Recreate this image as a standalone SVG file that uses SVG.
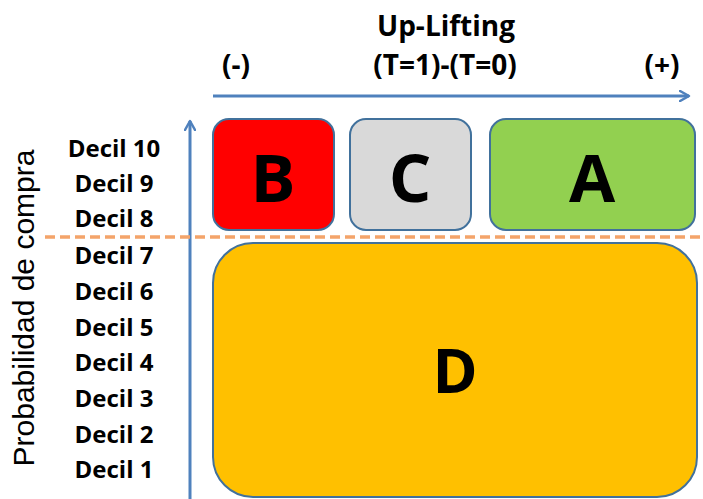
<svg xmlns="http://www.w3.org/2000/svg" width="703" height="499" viewBox="0 0 703 499">
<style>
.lbl{font-family:"Open Sans","DejaVu Sans",sans-serif;font-weight:bold;fill:#000}
.dec{font-size:24px;text-anchor:middle}
.big{font-size:67px;text-anchor:middle}
.box{stroke:#41719c;stroke-width:2}
.axis{stroke:#4f81bd;stroke-width:3;fill:none}
</style>
<defs>
<marker id="arr" viewBox="0 0 12 12" refX="10" refY="6" markerWidth="12" markerHeight="12" markerUnits="userSpaceOnUse" orient="auto">
<path d="M1,1 L10,6 L1,11" fill="none" stroke="#4f81bd" stroke-width="2.5" stroke-linecap="round" stroke-linejoin="round"/>
</marker>
</defs>
<rect width="703" height="499" fill="#fff"/>
<g id="titles">
<text class="lbl" x="446" y="36" font-size="28" text-anchor="middle">Up-Lifting</text>
<text class="lbl" x="445" y="75" font-size="28" text-anchor="middle">(T=1)-(T=0)</text>
<text class="lbl" x="236" y="75" font-size="28" text-anchor="middle">(-)</text>
<text class="lbl" x="662" y="75" font-size="28" text-anchor="middle">(+)</text>
<text x="34" y="308" font-family="'Liberation Sans',Arial,sans-serif" font-size="30" text-anchor="middle" transform="rotate(-90 34 308)">Probabilidad de compra</text>
</g>
<g id="deciles" class="lbl dec">
<text x="114" y="157">Decil 10</text>
<text x="114" y="192">Decil 9</text>
<text x="114" y="227">Decil 8</text>
<text x="114" y="264">Decil 7</text>
<text x="114" y="300">Decil 6</text>
<text x="114" y="336">Decil 5</text>
<text x="114" y="371">Decil 4</text>
<text x="114" y="407">Decil 3</text>
<text x="114" y="443">Decil 2</text>
<text x="114" y="478">Decil 1</text>
</g>
<g id="connectors">
<line class="axis" x1="213" y1="96" x2="689" y2="96" marker-end="url(#arr)"/>
<line class="axis" x1="190" y1="499" x2="190" y2="121" marker-end="url(#arr)"/>
<line x1="45" y1="237" x2="703" y2="237" stroke="#f4a46a" stroke-width="3.5" stroke-dasharray="10,5"/>
</g>
<g id="nodeB">
<rect class="box" x="213" y="119" width="121" height="111" rx="16" fill="#ff0000"/>
<text class="lbl big" x="273" y="202">B</text>
</g>
<g id="nodeC">
<rect class="box" x="350" y="119" width="121" height="111" rx="16" fill="#d9d9d9"/>
<text class="lbl big" x="410" y="202">C</text>
</g>
<g id="nodeA">
<rect class="box" x="490" y="119" width="205" height="111" rx="16" fill="#92d050"/>
<text class="lbl big" x="592" y="202">A</text>
</g>
<g id="nodeD">
<rect class="box" x="213" y="243" width="484" height="254" rx="40" fill="#ffc000"/>
<text class="lbl" x="455" y="393" font-size="61" text-anchor="middle">D</text>
</g>
</svg>
